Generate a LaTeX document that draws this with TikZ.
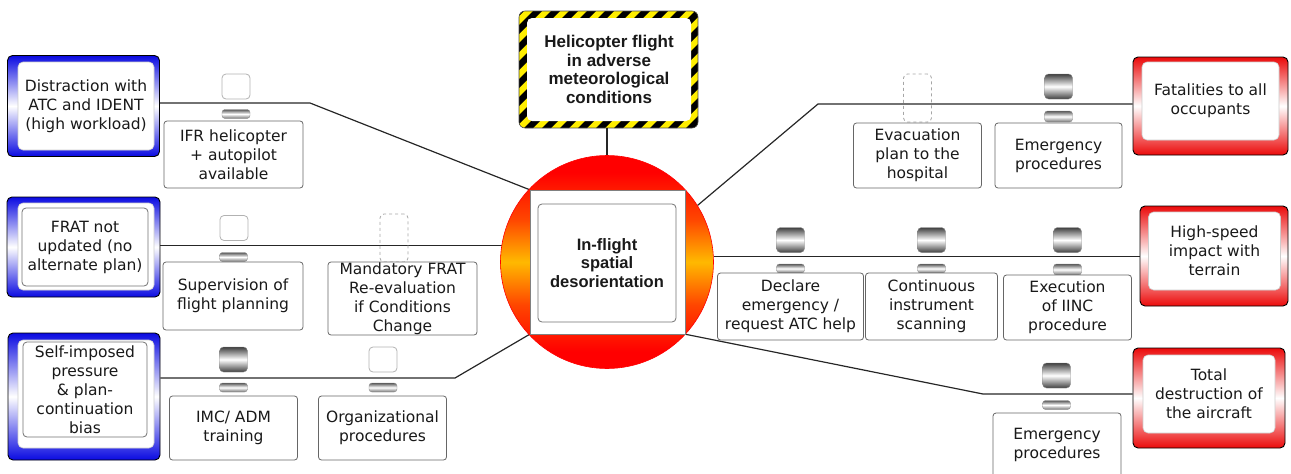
\documentclass[tikz,border=0pt]{standalone}
\usepackage{fontspec}
\setmainfont{DejaVu Sans}
\newfontfamily\libsans{Liberation Sans}
\usetikzlibrary{calc}
\definecolor{tblue}{RGB}{10,10,225}
\definecolor{cred}{RGB}{235,10,10}
\definecolor{hzyellow}{RGB}{255,238,0}
\definecolor{corange}{RGB}{255,190,0}
\definecolor{txtc}{RGB}{25,25,25}
\pgfdeclareverticalshading{ringshade}{100bp}{color(0bp)=(red); color(25bp)=(red); color(29bp)=(red); color(40bp)=(rgb,255:red,255;green,70;blue,0); color(50bp)=(rgb,255:red,255;green,185;blue,0); color(60bp)=(rgb,255:red,255;green,70;blue,0); color(71bp)=(red); color(75bp)=(red); color(100bp)=(red)}
\begin{document}
\begin{tikzpicture}[x=1pt,y=-1pt,
  conn/.style={draw=black!85, line width=1.2pt},
  txt/.style={font=\fontsize{15.5}{19}\selectfont, align=center, text=txtc},
  btxt/.style={font=\libsans\bfseries\fontsize{16.5}{18.5}\selectfont, align=center, text=txtc},
  threat/.style={rounded corners=5pt, draw=black, line width=0.9pt, top color=tblue, bottom color=tblue, middle color=white, inner sep=0pt},
  conseq/.style={rounded corners=5pt, draw=black, line width=0.9pt, top color=cred, bottom color=cred, middle color=white, inner sep=0pt},
  whitein/.style={rounded corners=5pt, fill=white, draw=black!20, line width=0.6pt, inner sep=0pt},
  grayin/.style={rounded corners=4pt, draw=black!55, fill=white, line width=0.8pt, inner sep=0pt, txt},
  barrier/.style={rounded corners=3pt, draw=black!60, fill=white, line width=0.8pt, inner sep=1pt, txt},
  ghost/.style={rounded corners=4pt, draw=black!30, fill=white, line width=0.8pt, minimum width=28, minimum height=25, inner sep=0pt},
  dghost/.style={rounded corners=4pt, draw=black!35, dashed, line width=0.8pt, minimum width=28, minimum height=48, inner sep=0pt},
  metal/.style={rounded corners=4pt, draw=black!45, line width=0.4pt, top color=black!75, bottom color=black!75, middle color=white, minimum width=28, minimum height=25, inner sep=0pt},
  tabbar/.style={rounded corners=3pt, draw=black!45, line width=0.4pt, top color=black!65, bottom color=black!55, middle color=white, minimum width=28, minimum height=9, inner sep=0pt}
]
\useasboundingbox (0,0) rectangle (1291,474);

% ---------- threats ----------
\node[threat, minimum width=152, minimum height=101] (t1) at (83.5,106) {};
\node[whitein, minimum width=136, minimum height=88, txt] (t1i) at (86,106) {Distraction with\\ATC and IDENT\\(high workload)};

\node[threat, minimum width=153, minimum height=100] (t2) at (83.5,247) {};
\node[whitein, minimum width=136, minimum height=87] (t2w) at (86,246.5) {};
\node[grayin, minimum width=126, minimum height=78] (t2i) at (85,247) {FRAT not\\updated (no\\alternate plan)};

\node[threat, minimum width=152, minimum height=127] (t3) at (84,396.5) {};
\node[whitein, minimum width=136, minimum height=108] (t3w) at (86,394) {};
\node[grayin, minimum width=124, minimum height=95] (t3i) at (85,389.5) {Self-imposed\\pressure\\\& plan-\\continuation\\bias};

% ---------- consequences ----------
\node[conseq, minimum width=155, minimum height=98] (c1) at (1210.5,106) {};
\node[whitein, minimum width=137, minimum height=78, txt] (c1i) at (1210.5,101) {Fatalities to all\\occupants};

\node[conseq, minimum width=148, minimum height=100] (c2) at (1214,256) {};
\node[whitein, minimum width=132, minimum height=78, txt] (c2i) at (1214.5,251) {High-speed\\impact with\\terrain};

\node[conseq, minimum width=152, minimum height=100] (c3) at (1209,398) {};
\node[whitein, minimum width=132, minimum height=78, txt] (c3i) at (1209,394) {Total\\destruction of\\the aircraft};

% ---------- hazard ----------
\begin{scope}
  \clip[rounded corners=6pt] (519,11) rectangle (698,128);
  \fill[hzyellow] (519,11) rectangle (698,128);
  \foreach \i in {0,...,18} {
    \fill[black] ({396+18*\i},130) -- ++(9,0) -- ++(120,-120) -- ++(-9,0) -- cycle;
  }
\end{scope}
\node[draw=black!70, line width=0.6pt, rounded corners=6pt, minimum width=179, minimum height=117, inner sep=0pt] (hz) at (608.5,69.5) {};
\node[rounded corners=5pt, fill=white, minimum width=164, minimum height=103, inner sep=0pt, btxt, font=\libsans\bfseries\fontsize{17}{18.5}\selectfont] (hzin) at (609,69.5) {Helicopter flight\\in adverse\\meteorological\\conditions};

% ---------- center shapes (for anchors) ----------
\node[circle, minimum size=213, inner sep=0pt] (circ) at (607,262) {};
\node[minimum width=155, minimum height=144, inner sep=0pt] (sq) at (607.5,262) {};

% ---------- connectors ----------
\coordinate (b1) at (310,103);
\coordinate (b3) at (455,378);
\coordinate (b4) at (818,104);
\coordinate (b6) at (983,394);
\draw[conn] (t1.east |- b1) -- (b1) -- (sq.north west);
\draw[conn] (t2.east |- circ.171) -- (circ.171);
\draw[conn] (t3.east |- b3) -- (b3) -- (sq.south west);
\draw[conn] (circ.32) -- (b4) -- (c1.west |- b4);
\draw[conn] (circ.3) -- (c2.west |- circ.3);
\draw[conn] (sq.south east) -- (b6) -- (c3.west |- b6);
\draw[conn] (circ.north |- hz.south) -- (circ.north);

% ---------- top event ----------
\node[circle, minimum size=213, inner sep=0pt, draw=red, line width=0.6pt, shading=ringshade] (circf) at (607,262) {};
\node[fill=white, draw=black!50, line width=0.6pt, minimum width=155, minimum height=144, inner sep=0pt] (sqf) at (607.5,262) {};
\node[rounded corners=4pt, draw=black!55, line width=0.8pt, fill=white, minimum width=138, minimum height=118, inner sep=0pt, btxt] (te) at (607,263) {In-flight\\spatial\\desorientation};

% ---------- left barriers ----------
\node[ghost] (g11) at (236,86.5) {};
\node[tabbar] (k11) at (236,114) {};
\node[barrier, minimum width=139, minimum height=67] (p11) at (233.5,154.5) {IFR helicopter\\+ autopilot\\available};

\node[ghost] (g21) at (234,228) {};
\node[tabbar] (k21) at (233.5,257) {};
\node[barrier, minimum width=140, minimum height=68] (p21) at (233,296) {Supervision of\\flight planning};
\node[dghost] (g22) at (394,238) {};
\node[barrier, minimum width=149, minimum height=73, inner sep=0pt] (p22) at (402.5,298.5) {Mandatory FRAT\\Re-evaluation\\if Conditions\\Change};

\node[metal] (g31) at (233.5,359.5) {};
\node[tabbar] (k31) at (233.5,387.5) {};
\node[barrier, minimum width=128, minimum height=64] (p31) at (233.5,428) {IMC/ ADM\\training};
\node[ghost] (g32) at (383,359.5) {};
\node[tabbar] (k32) at (383,387.5) {};
\node[barrier, minimum width=128, minimum height=64] (p32) at (382.5,428) {Organizational\\procedures};

% ---------- right barriers ----------
\node[dghost] (g41) at (917.5,98) {};
\node[barrier, minimum width=128, minimum height=65] (p41) at (917.5,155.5) {Evacuation\\plan to the\\hospital};
\node[metal] (g42) at (1058.5,86.5) {};
\node[tabbar, minimum height=11] (k42) at (1058.5,116.5) {};
\node[barrier, minimum width=127, minimum height=65] (p42) at (1058.5,155.5) {Emergency\\procedures};

\node[metal] (g51) at (790.5,240) {};
\node[tabbar] (k51) at (790.5,268.5) {};
\node[barrier, minimum width=146, minimum height=67] (p51) at (790.5,306.5) {Declare\\emergency /\\request ATC help};
\node[metal] (g52) at (931.5,240) {};
\node[tabbar] (k52) at (931.5,268.5) {};
\node[barrier, minimum width=132, minimum height=67] (p52) at (931.5,306.5) {Continuous\\instrument\\scanning};
\node[metal] (g53) at (1067.5,240) {};
\node[tabbar, minimum height=11] (k53) at (1067.5,269.5) {};
\node[barrier, minimum width=128, minimum height=65] (p53) at (1067.5,307.5) {Execution\\of IINC\\procedure};

\node[metal] (g61) at (1056.5,375.5) {};
\node[tabbar] (k61) at (1056.5,405) {};
\node[barrier, minimum width=128, minimum height=64] (p61) at (1057,445) {Emergency\\procedures};
\end{tikzpicture}
\end{document}
